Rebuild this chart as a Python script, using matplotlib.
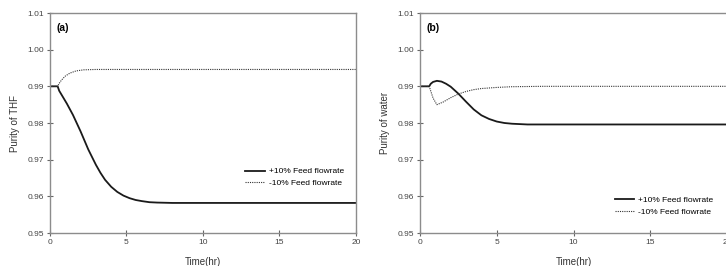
import matplotlib.pyplot as plt

plt.rcParams['font.family'] = ['Liberation Sans', 'DejaVu Sans']

# panel (a): purity of THF
t_a_up = [0, 0.5, 0.6, 0.8, 1.1, 1.5, 2.0, 2.5, 3.0, 3.3, 3.6, 4.0, 4.4, 4.8, 5.2, 5.6,
          6.0, 6.5, 7.0, 8.0, 10, 20]
y_a_up = [0.99, 0.99, 0.9888, 0.9874, 0.9853, 0.9822, 0.9777, 0.9728, 0.9686, 0.9664, 0.9645,
          0.9626, 0.9612, 0.9602, 0.9595, 0.9590, 0.9587, 0.9584, 0.9583, 0.9582, 0.9582, 0.9582]
t_a_dn = [0, 0.5, 0.6, 0.75, 1.0, 1.3, 1.7, 2.2, 3.0, 20]
y_a_dn = [0.99, 0.99, 0.9908, 0.9917, 0.9928, 0.9936, 0.9942, 0.9945, 0.9946, 0.9946]

# panel (b): purity of water
t_b_up = [0, 0.6, 0.7, 0.85, 1.1, 1.4, 1.7, 2.0, 2.5, 3.0, 3.5, 4.0, 4.5, 5.0, 5.5, 6.0,
          7.0, 20]
y_b_up = [0.99, 0.99, 0.9907, 0.9912, 0.9915, 0.9913, 0.9907, 0.9899, 0.9880, 0.9858, 0.9837,
          0.9821, 0.9811, 0.9804, 0.9800, 0.9798, 0.9796, 0.9796]
t_b_dn = [0, 0.6, 0.85, 1.1, 1.5, 2.0, 2.5, 3.0, 3.5, 4.0, 5.0, 6.0, 8.0, 20]
y_b_dn = [0.99, 0.99, 0.9868, 0.985, 0.9857, 0.9869, 0.9879, 0.9886, 0.9891, 0.9894, 0.9897,
          0.9899, 0.99, 0.99]

labels = ["+10% Feed flowrate", "-10% Feed flowrate"]
xticks = [0, 5, 10, 15, 20]
yticks = [0.95, 0.96, 0.97, 0.98, 0.99, 1.00, 1.01]

fig = plt.figure(figsize=(7.26, 2.66), dpi=100)
ax_a = fig.add_axes([50 / 726, 1 - 233 / 266, 306 / 726, 220 / 266])
ax_b = fig.add_axes([420 / 726, 1 - 233 / 266, 307 / 726, 220 / 266])

panels = [
    (ax_a, t_a_up, y_a_up, t_a_dn, y_a_dn, "Purity of THF", "(a)", (0.625, 0.19)),
    (ax_b, t_b_up, y_b_up, t_b_dn, y_b_dn, "Purity of water", "(b)", (0.62, 0.06)),
]

for ax, tu, yu, td, yd, ylab, tag, legpos in panels:
    ax.plot(tu, yu, color='#1a1a1a', lw=1.3, label=labels[0])
    ax.plot(td, yd, color='#333333', lw=0.8, linestyle=(0, (1, 1)), label=labels[1])
    ax.set_xlim(0, 20)
    ax.set_ylim(0.95, 1.01)
    ax.set_xticks(xticks)
    ax.set_yticks(yticks)
    ax.set_yticklabels(["%.2f" % v for v in yticks])
    for s in ax.spines.values():
        s.set_color('#8c8c8c')
        s.set_linewidth(1.0)
    ax.tick_params(direction='inout', length=5, width=0.8, color='#666666',
                   labelsize=6, labelcolor='#444444', pad=2)
    ax.set_ylabel(ylab, fontsize=7, color='#333333', labelpad=5)
    ax.set_xlabel("Time(hr)", fontsize=7, color='#333333', labelpad=8)
    ax.text(0.02, 0.955, tag, transform=ax.transAxes, fontsize=7.5, fontweight='bold',
            va='top', ha='left')
    ax.legend(loc='lower left', bbox_to_anchor=legpos, frameon=False, fontsize=6,
              handlelength=2.3, handletextpad=0.5, labelspacing=0.45, borderpad=0)

fig.savefig("out.png", dpi=100)
